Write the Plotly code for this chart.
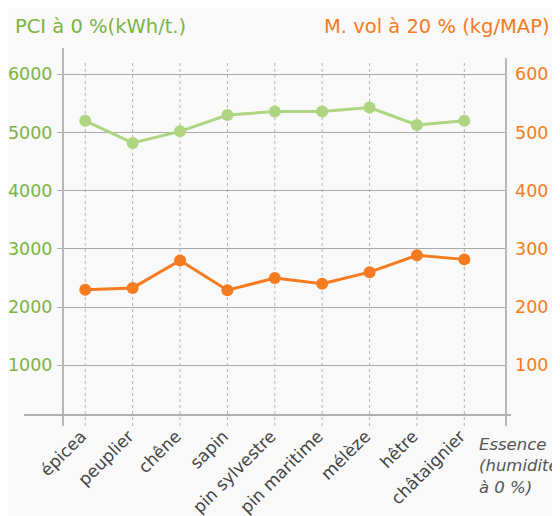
import plotly.graph_objects as go

categories = ["épicea", "peuplier", "chêne", "sapin", "pin sylvestre",
              "pin maritime", "mélèze", "hêtre", "châtaignier"]
pci = [5200, 4820, 5020, 5300, 5360, 5360, 5430, 5130, 5200]
mvol = [230, 233, 280, 229, 250, 240, 260, 289, 282]
left_ticks = [1000, 2000, 3000, 4000, 5000, 6000]
right_ticks = [100, 200, 300, 400, 500, 600]

GREEN_TXT = "#7cb342"
GREEN_LINE = "#aed581"
ORANGE = "#f47b20"
FONT = "DejaVu Sans"

OFF = 8  # page body margin
W, H = 552, 508
L, R, T, B = 55, 54, 40, 101
pw, ph = W - L - R, H - T - B

def px(x):  # page pixel -> paper
    return (x - OFF - L) / pw

def py(y):
    return (H - B - (y - OFF)) / ph

fig = go.Figure()
fig.add_trace(go.Scatter(x=categories, y=pci, mode="lines+markers",
                         line=dict(color=GREEN_LINE, width=3),
                         marker=dict(color=GREEN_LINE, size=12),
                         yaxis="y", showlegend=False))
fig.add_trace(go.Scatter(x=categories, y=mvol, mode="lines+markers",
                         line=dict(color=ORANGE, width=3),
                         marker=dict(color=ORANGE, size=12),
                         yaxis="y2", showlegend=False))

shapes = []
for c in categories:
    shapes.append(dict(type="line", xref="x", yref="paper", x0=c, x1=c,
                       y0=py(426), y1=py(63),
                       line=dict(color="#b5b5b5", width=1, dash="dot"),
                       layer="below"))
shapes.append(dict(type="line", xref="paper", yref="paper", x0=0, x1=0,
                   y0=py(426), y1=1, line=dict(color="#b8b8b8", width=2)))
shapes.append(dict(type="line", xref="paper", yref="paper", x0=1, x1=1,
                   y0=py(426), y1=py(58), line=dict(color="#b8b8b8", width=2)))
shapes.append(dict(type="line", xref="paper", yref="paper", x0=px(24), x1=px(511),
                   y0=0, y1=0, line=dict(color="#b0b0b0", width=2)))

annotations = [
    dict(text="PCI à 0 %(kWh/t.)", xref="paper", yref="paper",
         x=px(13), y=py(26), xanchor="left", yanchor="middle", showarrow=False,
         font=dict(family=FONT, size=19.5, color=GREEN_TXT)),
    dict(text="M. vol à 20 % (kg/MAP)", xref="paper", yref="paper",
         x=px(552), y=py(26), xanchor="right", yanchor="middle", showarrow=False,
         font=dict(family=FONT, size=19.5, color=ORANGE)),
    dict(text="<i>Essence<br>(humidité<br>à 0 %)</i>", xref="paper", yref="paper",
         x=px(477), y=py(433), xanchor="left", yanchor="top", showarrow=False,
         align="left", font=dict(family=FONT, size=16.5, color="#555555")),
]

ylo, yhi = 146, 6452
fig.update_layout(
    width=W, height=H,
    margin=dict(l=L, r=R, t=T, b=B),
    paper_bgcolor="#f9f9f9", plot_bgcolor="rgba(0,0,0,0)",
    font=dict(family=FONT),
    shapes=shapes, annotations=annotations,
    xaxis=dict(type="category", range=[-0.47, 8.88], showgrid=False,
               showline=False, zeroline=False, ticks="", tickangle=-45,
               automargin=False, ticklabelstandoff=7, ticklabelshift=-4,
               tickfont=dict(family=FONT, size=17, color="#444444")),
    yaxis=dict(range=[ylo, yhi], tickvals=left_ticks, showgrid=True,
               gridcolor="#aaaaaa", gridwidth=1, zeroline=False, showline=False,
               ticks="outside", ticklen=5, tickcolor="#aaaaaa", automargin=False,
               ticklabelstandoff=1,
               tickfont=dict(family=FONT, size=17.5, color=GREEN_TXT)),
    yaxis2=dict(range=[ylo / 10, yhi / 10], tickvals=right_ticks, overlaying="y",
                side="right", showgrid=False, zeroline=False, showline=False,
                ticks="", ticklabelstandoff=8, automargin=False,
                tickfont=dict(family=FONT, size=17.5, color=ORANGE)),
)

fig.write_html("out.html")
